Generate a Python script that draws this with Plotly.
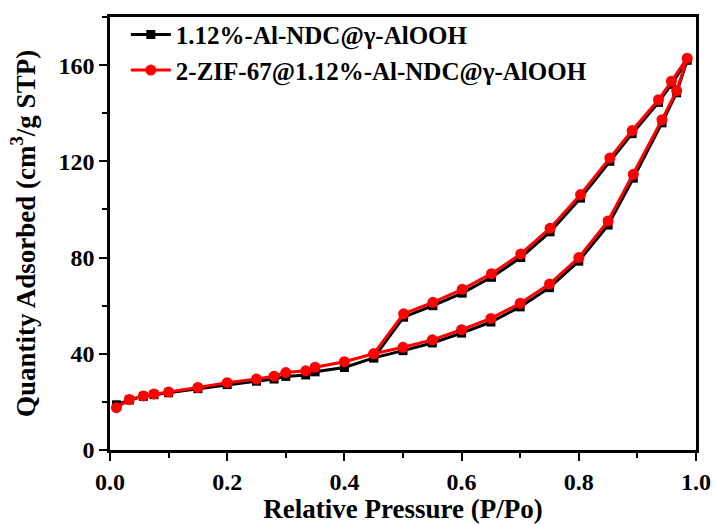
import plotly.graph_objects as go

# Adsorption branch relative pressures
ads_x = [0.011, 0.033, 0.057, 0.075, 0.10, 0.15, 0.20, 0.25, 0.28, 0.30, 0.334, 0.35,
         0.40, 0.45, 0.50, 0.55, 0.60, 0.65, 0.70, 0.75, 0.80, 0.85, 0.893, 0.942, 0.967, 0.985]
# Desorption branch relative pressures
des_x = [0.958, 0.936, 0.891, 0.853, 0.803, 0.751, 0.701, 0.651, 0.601, 0.551, 0.501, 0.45]

black_ads = [18.8, 20.8, 22.3, 23.0, 23.8, 25.5, 27.2, 28.6, 29.5, 30.6, 31.2, 32.5,
             34.3, 38.3, 41.3, 44.5, 48.6, 53.2, 59.5, 67.5, 78.5, 93.5, 113.0, 136.0, 148.5, 162.0]
black_des = [152.0, 144.5, 131.5, 120.0, 104.7, 90.7, 80.0, 71.8, 65.2, 60.0, 55.2, 38.3]

red_ads = [17.6, 21.0, 22.5, 23.3, 24.1, 26.0, 28.0, 29.5, 30.7, 32.2, 32.9, 34.4,
           36.7, 40.0, 42.7, 45.8, 50.0, 54.7, 61.0, 69.0, 80.0, 95.2, 114.6, 137.3, 149.4, 162.9]
red_des = [153.3, 145.6, 132.8, 121.4, 106.2, 92.2, 81.5, 73.3, 66.8, 61.4, 56.6, 40.0]

names = ["1.12%-Al-NDC@γ-AlOOH", "2-ZIF-67@1.12%-Al-NDC@γ-AlOOH"]
x_ticks = [0.0, 0.2, 0.4, 0.6, 0.8, 1.0]
x_tick_text = ["0.0", "0.2", "0.4", "0.6", "0.8", "1.0"]
y_ticks = [0, 40, 80, 120, 160]

FONT = "Liberation Serif"

fig = go.Figure()
fig.add_trace(go.Scatter(
    x=ads_x + des_x, y=black_ads + black_des, mode="lines+markers", name=names[0],
    line=dict(color="black", width=3),
    marker=dict(symbol="square", size=9, color="black"),
))
fig.add_trace(go.Scatter(
    x=ads_x + des_x, y=red_ads + red_des, mode="lines+markers", name=names[1],
    line=dict(color="#ff0000", width=3),
    marker=dict(symbol="circle", size=11, color="#ff0000"),
))

axis_common = dict(
    showgrid=False, zeroline=False, showline=True, linecolor="black", linewidth=2.5,
    mirror=True, ticks="outside", ticklen=8, tickwidth=2, tickcolor="black",
    tickfont=dict(family=FONT, size=24, color="black", weight="bold"),
    automargin=False,
)

fig.update_xaxes(
    range=[0, 1.0], tickvals=x_ticks, ticktext=x_tick_text,
    minor=dict(ticks="outside", ticklen=5, tickwidth=2, tickcolor="black", dtick=0.1, tick0=0),
    title=dict(text="Relative Pressure (P/Po)",
               font=dict(family=FONT, size=27, color="black", weight="bold"), standoff=2),
    **axis_common,
)
fig.update_yaxes(
    range=[0, 180], tickvals=y_ticks,
    minor=dict(ticks="outside", ticklen=5, tickwidth=2, tickcolor="black", dtick=20, tick0=0),
    title=dict(text="Quantity Adsorbed (cm<sup>3</sup>/g STP)",
               font=dict(family=FONT, size=27, color="black", weight="bold"), standoff=16),
    **axis_common,
)

fig.update_layout(
    width=716, height=524,
    margin=dict(l=110, r=20, t=14, b=74),
    plot_bgcolor="white", paper_bgcolor="white",
    legend=dict(
        x=0.027, y=1.012, xanchor="left", yanchor="top",
        font=dict(family=FONT, size=25, color="black", weight="bold"),
        bgcolor="rgba(0,0,0,0)", itemwidth=40, tracegroupgap=0,
    ),
    font=dict(family=FONT),
)

fig.write_html("out.html")
